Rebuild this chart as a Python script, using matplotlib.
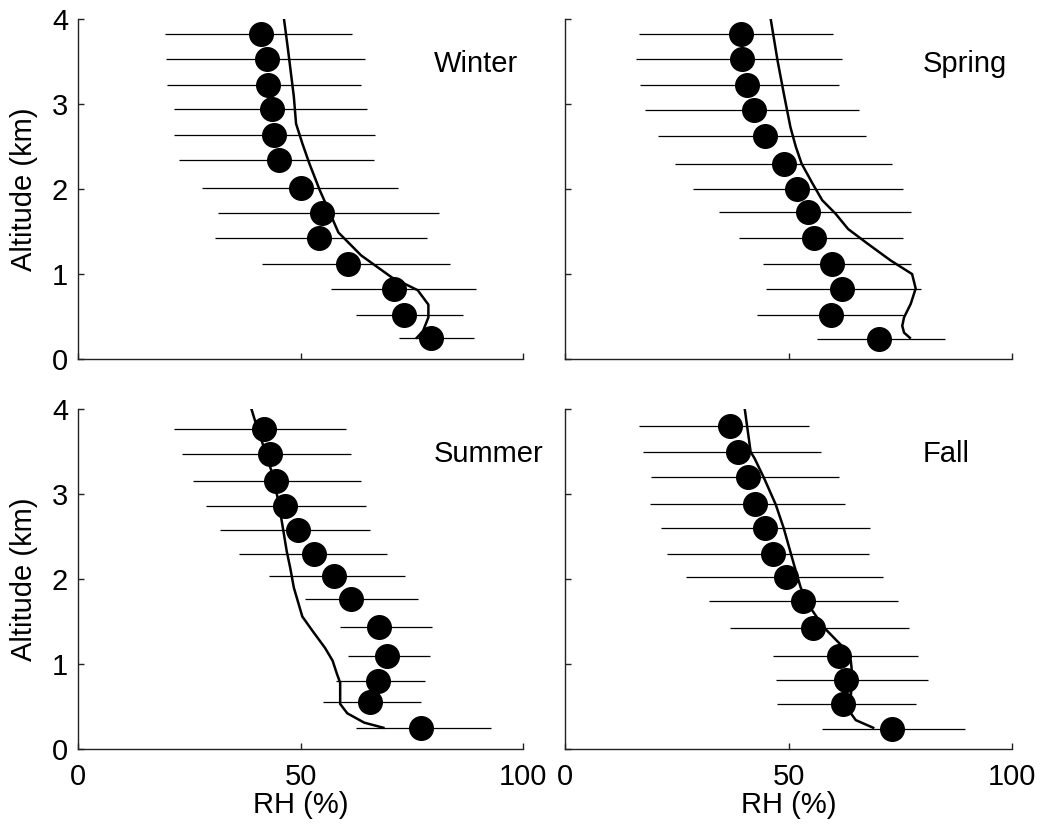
import matplotlib
matplotlib.use('Agg')
from matplotlib import pyplot as plt

plt.rcParams['font.family'] = ['Liberation Sans', 'DejaVu Sans']

# x axis: RH (%), y axis: altitude (km)
seasons = ['Winter', 'Spring', 'Summer', 'Fall']

# --- observed mean RH with range bars ---
alt_w = [3.83, 3.53, 3.23, 2.94, 2.64, 2.34, 2.01, 1.72, 1.42, 1.12, 0.82, 0.52, 0.25]
rh_w = [41.1, 42.4, 42.7, 43.5, 44.0, 45.2, 50.2, 54.9, 54.1, 60.7, 70.9, 73.3, 79.3]
lo_w = [19.5, 19.8, 20.1, 21.7, 21.7, 22.7, 27.8, 31.4, 30.9, 41.3, 56.9, 62.4, 72.1]
hi_w = [61.6, 64.5, 63.6, 65.0, 66.8, 66.5, 71.9, 81.0, 78.4, 83.5, 89.3, 86.4, 88.9]

alt_sp = [3.83, 3.53, 3.23, 2.93, 2.62, 2.30, 2.00, 1.73, 1.43, 1.12, 0.82, 0.52, 0.23]
rh_sp = [39.3, 39.6, 40.6, 42.2, 44.8, 49.0, 51.8, 54.3, 55.7, 59.8, 62.0, 59.4, 70.3]
lo_sp = [16.5, 15.8, 16.8, 18.0, 20.9, 24.7, 28.6, 34.4, 38.8, 44.3, 44.9, 42.9, 56.3]
hi_sp = [60.0, 61.9, 61.2, 65.7, 67.4, 73.1, 75.6, 77.3, 75.6, 77.3, 79.5, 75.8, 84.9]

alt_su = [3.77, 3.47, 3.16, 2.86, 2.58, 2.30, 2.04, 1.77, 1.44, 1.10, 0.80, 0.55, 0.25]
rh_su = [41.8, 43.1, 44.6, 46.6, 49.5, 53.0, 57.5, 61.3, 67.7, 69.4, 67.4, 65.5, 77.1]
lo_su = [21.7, 23.3, 25.9, 28.8, 32.0, 36.2, 42.9, 51.0, 58.9, 60.6, 58.0, 55.1, 62.4]
hi_su = [60.3, 61.3, 63.6, 64.6, 65.5, 69.4, 73.5, 76.4, 79.5, 79.0, 78.0, 77.1, 92.8]

alt_fa = [3.80, 3.50, 3.20, 2.89, 2.60, 2.30, 2.02, 1.74, 1.42, 1.10, 0.81, 0.53, 0.23]
rh_fa = [37.0, 38.7, 40.9, 42.5, 44.8, 46.4, 49.5, 53.3, 55.5, 61.3, 62.9, 62.2, 73.2]
lo_fa = [16.5, 17.4, 19.3, 19.0, 21.5, 22.9, 27.0, 32.1, 36.9, 46.5, 47.1, 47.4, 57.4]
hi_fa = [54.6, 57.2, 61.3, 62.6, 68.3, 68.0, 71.2, 74.4, 77.0, 78.9, 81.1, 78.5, 89.4]

# --- model profiles (solid line) ---
ln_w_rh = [46.3, 47.2, 48.5, 49.0, 50.4, 52.0, 54.3, 57.0, 58.5, 63.6, 70.5, 76.3, 78.7, 78.7, 77.5, 76.1]
ln_w_alt = [4.0, 3.64, 3.09, 2.77, 2.54, 2.30, 1.99, 1.67, 1.49, 1.22, 0.96, 0.81, 0.64, 0.49, 0.33, 0.25]

ln_sp_rh = [46.0, 47.5, 48.9, 50.4, 51.6, 52.9, 55.3, 57.5, 60.5, 63.3, 67.6, 72.8, 77.6, 78.4, 77.3, 75.8, 75.4, 75.8, 77.1]
ln_sp_alt = [4.0, 3.52, 3.13, 2.73, 2.50, 2.30, 2.07, 1.87, 1.71, 1.53, 1.36, 1.16, 1.00, 0.83, 0.65, 0.49, 0.39, 0.31, 0.25]

ln_su_rh = [39.0, 40.0, 41.1, 43.5, 44.9, 45.8, 46.9, 47.7, 48.5, 50.4, 52.7, 55.5, 57.2, 58.2, 58.9, 58.9, 60.5, 64.3, 68.6]
ln_su_alt = [4.0, 3.83, 3.66, 3.27, 2.95, 2.68, 2.33, 2.13, 1.90, 1.56, 1.39, 1.19, 1.04, 0.88, 0.78, 0.53, 0.42, 0.31, 0.25]

ln_fa_rh = [40.2, 41.5, 42.4, 44.5, 47.1, 48.9, 51.2, 52.7, 54.9, 57.9, 61.6, 63.9, 64.2, 63.9, 63.5, 65.0, 68.9]
ln_fa_alt = [4.0, 3.50, 3.42, 3.19, 2.88, 2.60, 2.17, 1.90, 1.66, 1.43, 1.23, 1.04, 0.88, 0.61, 0.45, 0.34, 0.25]

x_ticks = [0, 50, 100]
y_ticks = [0, 1, 2, 3, 4]

panels = [
    (alt_w, rh_w, lo_w, hi_w, ln_w_rh, ln_w_alt),
    (alt_sp, rh_sp, lo_sp, hi_sp, ln_sp_rh, ln_sp_alt),
    (alt_su, rh_su, lo_su, hi_su, ln_su_rh, ln_su_alt),
    (alt_fa, rh_fa, lo_fa, hi_fa, ln_fa_rh, ln_fa_alt),
]

# axes rectangles in figure fractions (left, bottom, width, height)
rects = [
    (0.0746, 0.568, 0.4276, 0.4088),
    (0.5422, 0.568, 0.4293, 0.4088),
    (0.0746, 0.0987, 0.4276, 0.4088),
    (0.5422, 0.0987, 0.4293, 0.4088),
]

fig = plt.figure(figsize=(10.42, 8.31), dpi=100)
fs = 21

for i, (name, data, rect) in enumerate(zip(seasons, panels, rects)):
    alt, rh, lo, hi, lrh, lalt = data
    ax = fig.add_axes(rect)
    ax.hlines(alt, lo, hi, colors='black', linewidth=0.9)
    ax.plot(lrh, lalt, color='black', linewidth=1.8)
    ax.plot(rh, alt, 'o', color='black', markersize=17, linestyle='none')

    ax.set_xlim(0, 100)
    ax.set_ylim(0, 4)
    ax.set_xticks(x_ticks)
    ax.set_yticks(y_ticks)
    for s in ['top', 'right']:
        ax.spines[s].set_visible(False)
    for s in ['left', 'bottom']:
        ax.spines[s].set_linewidth(1.0)
        ax.spines[s].set_color('#222222')
    ax.tick_params(direction='in', length=4, width=1.0, color='#222222', labelsize=fs)
    ax.tick_params(axis='x', pad=10)
    ax.tick_params(axis='y', pad=7)

    if i < 2:
        ax.set_xticklabels([])
    else:
        ax.set_xlabel('RH (%)', fontsize=fs, labelpad=0)
    if i % 2 == 1:
        ax.set_yticklabels([])
    else:
        ax.set_ylabel('Altitude (km)', fontsize=fs, labelpad=10)

    ax.text(0.80, 0.845, name, transform=ax.transAxes, fontsize=fs,
            ha='left', va='baseline', clip_on=False)

fig.savefig('out.png', dpi=100)
